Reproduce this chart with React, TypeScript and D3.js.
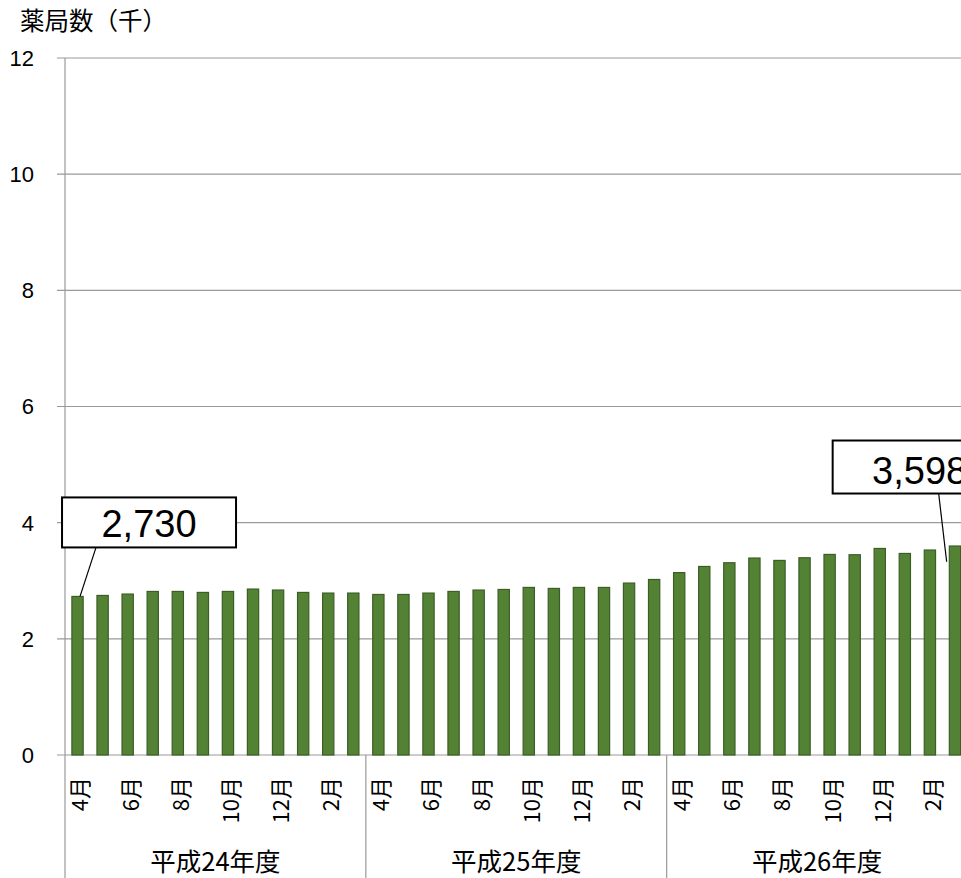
import React from "react";
import * as d3 from "d3";

// ---- data ----
const fiscalYears: string[] = ["平成24年度", "平成25年度", "平成26年度"];
const monthNames: string[] = ["4月", "5月", "6月", "7月", "8月", "9月", "10月", "11月", "12月", "1月", "2月", "3月"];
const valuesFY24: number[] = [2.730, 2.747, 2.771, 2.816, 2.816, 2.799, 2.816, 2.857, 2.840, 2.799, 2.788, 2.788];
const valuesFY25: number[] = [2.764, 2.764, 2.788, 2.816, 2.840, 2.850, 2.885, 2.868, 2.885, 2.885, 2.960, 3.022];
const valuesFY26: number[] = [3.140, 3.246, 3.310, 3.391, 3.350, 3.396, 3.453, 3.448, 3.556, 3.470, 3.529, 3.598];
const yTicks: number[] = [0, 2, 4, 6, 8, 10, 12];
const yTitle = "薬局数（千）";
// annotated bars: index and label text
const annotations = [
  { index: 0, text: "2,730" },
  { index: 35, text: "3,598" },
];

const W = 961;
const H = 878;

export default function App() {
  const rows = fiscalYears.flatMap((fy, gi) =>
    monthNames.map((m, mi) => ({
      key: `${fy}-${m}`,
      fy,
      month: m,
      mi,
      value: [valuesFY24, valuesFY25, valuesFY26][gi][mi],
    }))
  );

  const x0 = 65;
  const x1 = 967.5;
  const x = d3
    .scaleBand<string>()
    .domain(rows.map((r) => r.key))
    .range([x0, x1])
    .paddingInner(0.55)
    .paddingOuter(0.275);
  const gx = d3.scaleBand<string>().domain(fiscalYears).range([x0, x1]).padding(0);
  const y = d3.scaleLinear().domain([0, 12]).range([755, 58]);

  const gridColor = "#9a9a9a";
  const numFont = "'Liberation Sans', Arial, sans-serif";
  const cjkFont = "'Noto Sans CJK JP', 'Noto Sans', sans-serif";

  // annotation layouts (offsets relative to bar)
  const annLayout = [
    { dx: -15.5, dyTop: -99, w: 174, h: 50, lineFrom: [18.5, 0], lineTo: [2.5, 0] },
    { dx: -122.3, dyTop: -105.5, w: 174, h: 53, lineFrom: [-16.3, 0], lineTo: [-8.3, 15.7] },
  ];

  return (
    <svg
      width={W}
      height={H}
      style={{ position: "absolute", left: 0, top: 0, background: "#fff" }}
    >
      {/* title */}
      <text x={20} y={30} fontFamily={cjkFont} fontSize={24.5} fill="#000">
        {yTitle}
      </text>

      {/* gridlines */}
      {yTicks.map((t) => (
        <g key={t}>
          <line x1={57} x2={W} y1={y(t)} y2={y(t)} stroke={gridColor} strokeWidth={1.2} />
          <text
            x={34}
            y={y(t)}
            dy="0.36em"
            textAnchor="end"
            fontFamily={numFont}
            fontSize={22}
            fill="#000"
          >
            {t}
          </text>
        </g>
      ))}

      {/* y axis line */}
      <line x1={x0} x2={x0} y1={y(12)} y2={H} stroke={gridColor} strokeWidth={1.2} />

      {/* group separators */}
      {fiscalYears.map((fy) => (
        <line
          key={fy}
          x1={(gx(fy) as number) + gx.bandwidth()}
          x2={(gx(fy) as number) + gx.bandwidth()}
          y1={y(0)}
          y2={H}
          stroke={gridColor}
          strokeWidth={1.2}
        />
      ))}

      {/* bars */}
      {rows.map((r) => (
        <rect
          key={r.key}
          x={x(r.key)}
          y={y(r.value)}
          width={x.bandwidth()}
          height={y(0) - y(r.value)}
          fill="#548235"
          stroke="#3b5e25"
          strokeWidth={1.2}
        />
      ))}

      {/* month labels (every other) */}
      {rows
        .filter((r) => r.mi % 2 === 0)
        .map((r) => {
          const cx = (x(r.key) as number) + x.bandwidth() / 2 + 3;
          return (
            <text
              key={r.key}
              transform={`translate(${cx},${777}) rotate(-90)`}
              textAnchor="end"
              dy="0.36em"
              fontFamily={cjkFont}
              fontSize={22}
              fill="#000"
            >
              {r.month}
            </text>
          );
        })}

      {/* fiscal year labels */}
      {fiscalYears.map((fy) => (
        <text
          key={fy}
          x={(gx(fy) as number) + gx.bandwidth() / 2}
          y={871}
          textAnchor="middle"
          fontFamily={cjkFont}
          fontSize={25.5}
          fill="#000"
        >
          {fy}
        </text>
      ))}

      {/* annotations */}
      {annotations.map((a, ai) => {
        const r = rows[a.index];
        const cx = (x(r.key) as number) + x.bandwidth() / 2;
        const top = y(r.value);
        const L = annLayout[ai];
        const bx = cx + L.dx;
        const by = top + L.dyTop;
        return (
          <g key={a.index}>
            <line
              x1={cx + L.lineFrom[0]}
              y1={by + L.h}
              x2={cx + L.lineTo[0]}
              y2={top + L.lineTo[1]}
              stroke="#000"
              strokeWidth={1.2}
            />
            <rect x={bx} y={by} width={L.w} height={L.h} fill="#fff" stroke="#000" strokeWidth={2} />
            <text
              x={bx + L.w / 2}
              y={by + L.h - 10}
              textAnchor="middle"
              fontFamily={numFont}
              fontSize={38}
              fill="#000"
            >
              {a.text}
            </text>
          </g>
        );
      })}
    </svg>
  );
}
